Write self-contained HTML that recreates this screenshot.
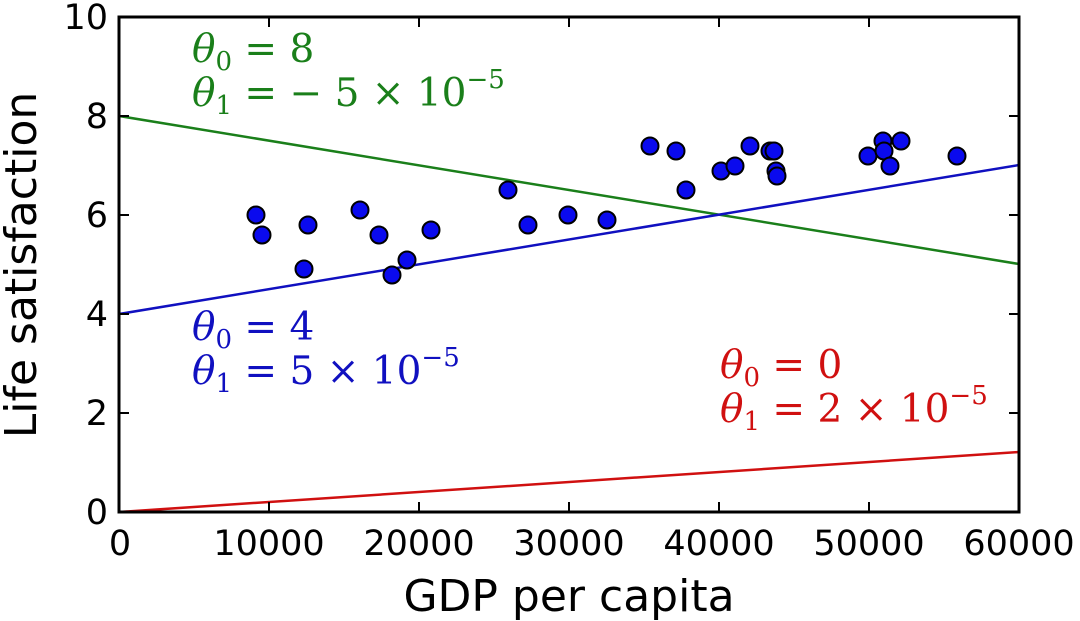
<!DOCTYPE html>
<html><head><meta charset="utf-8"><style>
body{margin:0;background:#fff}
svg{display:block}
.t{font-family:"DejaVu Sans","Liberation Sans",sans-serif;font-size:35px;fill:#000}
.m{font-family:"DejaVu Serif","Liberation Serif",serif;font-size:39px}
</style></head><body>
<svg width="1080" height="621" xmlns="http://www.w3.org/2000/svg">
<rect width="1080" height="621" fill="#fff"/>
<line x1="119" y1="116" x2="1019" y2="264" stroke="#1a7f1a" stroke-width="2.5"/>
<line x1="119" y1="314" x2="1019" y2="165" stroke="#1010c0" stroke-width="2.5"/>
<line x1="119" y1="512" x2="1019" y2="452" stroke="#d01010" stroke-width="2.5"/>
<g fill="#0a0aee" stroke="#000" stroke-width="2">
<circle cx="256" cy="215" r="8.5"/><circle cx="262" cy="235" r="8.5"/><circle cx="308" cy="225" r="8.5"/><circle cx="304" cy="269" r="8.5"/><circle cx="360" cy="210" r="8.5"/><circle cx="379" cy="235" r="8.5"/><circle cx="392" cy="275" r="8.5"/><circle cx="407" cy="260" r="8.5"/><circle cx="431" cy="230" r="8.5"/><circle cx="508" cy="190" r="8.5"/><circle cx="528" cy="225" r="8.5"/><circle cx="568" cy="215" r="8.5"/><circle cx="607" cy="220" r="8.5"/><circle cx="650" cy="146" r="8.5"/><circle cx="676" cy="151" r="8.5"/><circle cx="686" cy="190" r="8.5"/><circle cx="721" cy="171" r="8.5"/><circle cx="735" cy="166" r="8.5"/><circle cx="750" cy="146" r="8.5"/><circle cx="770" cy="151" r="8.5"/><circle cx="774" cy="151" r="8.5"/><circle cx="776" cy="171" r="8.5"/><circle cx="777" cy="176" r="8.5"/><circle cx="868" cy="156" r="8.5"/><circle cx="883" cy="141" r="8.5"/><circle cx="884" cy="151" r="8.5"/><circle cx="890" cy="166" r="8.5"/><circle cx="901" cy="141" r="8.5"/><circle cx="957" cy="156" r="8.5"/>
</g>
<rect x="119" y="17" width="900" height="495" fill="none" stroke="#000" stroke-width="3"/>
<g stroke="#000" stroke-width="2">
<line x1="269" y1="17" x2="269" y2="27"/><line x1="419" y1="17" x2="419" y2="27"/><line x1="569" y1="17" x2="569" y2="27"/><line x1="719" y1="17" x2="719" y2="27"/><line x1="869" y1="17" x2="869" y2="27"/>
<line x1="269" y1="512" x2="269" y2="502"/><line x1="419" y1="512" x2="419" y2="502"/><line x1="569" y1="512" x2="569" y2="502"/><line x1="719" y1="512" x2="719" y2="502"/><line x1="869" y1="512" x2="869" y2="502"/>
<line x1="119" y1="116" x2="129" y2="116"/><line x1="119" y1="215" x2="129" y2="215"/><line x1="119" y1="314" x2="129" y2="314"/><line x1="119" y1="413" x2="129" y2="413"/>
<line x1="1019" y1="116" x2="1009" y2="116"/><line x1="1019" y1="215" x2="1009" y2="215"/><line x1="1019" y1="314" x2="1009" y2="314"/><line x1="1019" y1="413" x2="1009" y2="413"/>
</g>
<g class="t" text-anchor="end">
<text x="108" y="29">10</text><text x="108" y="128">8</text><text x="108" y="227">6</text><text x="108" y="326">4</text><text x="108" y="425">2</text><text x="108" y="524">0</text>
</g>
<g class="t" text-anchor="middle">
<text x="120" y="555">0</text><text x="269" y="555">10000</text><text x="419" y="555">20000</text><text x="569" y="555">30000</text><text x="719" y="555">40000</text><text x="869" y="555">50000</text><text x="1019" y="555">60000</text>
<text x="569" y="611" style="font-size:44px">GDP per capita</text>
<text transform="translate(36,265) rotate(-90)" style="font-size:44px">Life satisfaction</text>
</g>
<g class="m" fill="#1a7f1a">
<text x="192" y="62"><tspan font-style="italic">θ</tspan><tspan font-size="26" dy="8">0</tspan><tspan dy="-8"> = 8</tspan></text>
<text x="192" y="106"><tspan font-style="italic">θ</tspan><tspan font-size="26" dy="8">1</tspan><tspan dy="-8"> = − 5 × 10</tspan><tspan font-size="26" dy="-18">−5</tspan></text>
</g>
<g class="m" fill="#1010c0">
<text x="192" y="340"><tspan font-style="italic">θ</tspan><tspan font-size="26" dy="8">0</tspan><tspan dy="-8"> = 4</tspan></text>
<text x="192" y="384"><tspan font-style="italic">θ</tspan><tspan font-size="26" dy="8">1</tspan><tspan dy="-8"> = 5 × 10</tspan><tspan font-size="26" dy="-18">−5</tspan></text>
</g>
<g class="m" fill="#d01010">
<text x="720" y="378"><tspan font-style="italic">θ</tspan><tspan font-size="26" dy="8">0</tspan><tspan dy="-8"> = 0</tspan></text>
<text x="720" y="422"><tspan font-style="italic">θ</tspan><tspan font-size="26" dy="8">1</tspan><tspan dy="-8"> = 2 × 10</tspan><tspan font-size="26" dy="-18">−5</tspan></text>
</g>
</svg>
</body></html>
